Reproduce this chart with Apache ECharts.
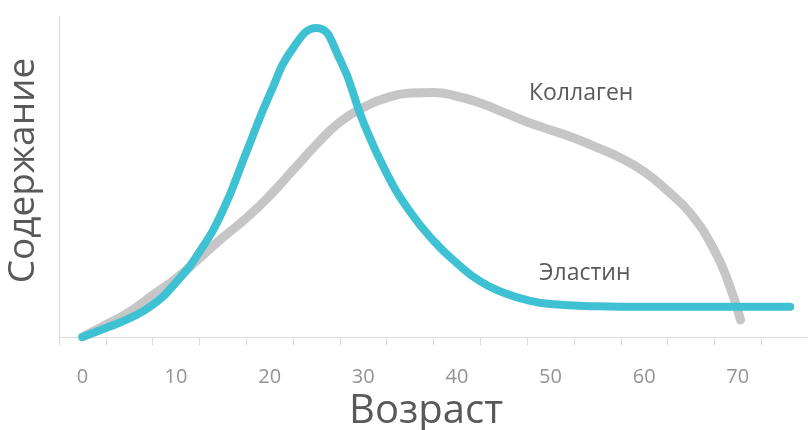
<!DOCTYPE html>
<html>
<head>
<meta charset="utf-8">
<script src="https://cdn.jsdelivr.net/npm/echarts@6/dist/echarts.min.js"></script>
<style>html,body{margin:0;padding:0;background:#fff;}#c{width:808px;height:430px;}</style>
</head>
<body>
<div id="c"></div>
<script>
// Category ticks along the age axis (every 5 years, labels every 10)
const ageCategories = ['0','5','10','15','20','25','30','35','40','45','50','55','60','65','70','75'];
// Эластин: [age, content]
const elastin = [
  [0, 0], [2.5, 2.8], [5, 5.8], [7.5, 10], [10, 17], [12.5, 26.5], [15, 39.4],
  [17.5, 57.5], [20, 75.5], [22.5, 90], [25, 96.3], [27.5, 86.5], [30, 67],
  [32.5, 51], [35, 39], [37.5, 30], [40, 23], [42.5, 17.3], [45, 13.8],
  [47.5, 11.5], [50, 10.3], [55, 9.6], [60, 9.4], [75.6, 9.4]
];
// Коллаген: [age, content]
const collagen = [
  [0, 0], [2.5, 3.8], [5, 7.8], [7.5, 13], [10, 18.2], [12.5, 24.5], [15, 31],
  [17.5, 37], [20, 44], [22.5, 52], [25, 60], [27.5, 67], [30, 71.5],
  [32.5, 74.5], [35, 76], [37.5, 76.2], [40, 75], [42.5, 72.9], [45, 70],
  [47.5, 67], [50, 64.5], [52.5, 62], [55, 59], [57.5, 55.8], [60, 51.5],
  [62.5, 45.5], [65, 38.3], [67.5, 27], [69, 17], [70.3, 5.3]
];
const seriesNames = ['Коллаген', 'Эластин'];
const axisNames = { x: 'Возраст', y: 'Содержание' };

const chart = echarts.init(document.getElementById('c'), null, { renderer: 'canvas' });
const FONT = '"Open Sans", "Noto Sans", sans-serif';
chart.setOption({
  animation: false,
  backgroundColor: '#ffffff',
  grid: { left: 59, right: 0, top: 16, bottom: 93, containLabel: false, outerBoundsMode: 'none' },
  xAxis: [
    {
      type: 'category',
      data: ageCategories,
      boundaryGap: true,
      name: axisNames.x,
      nameLocation: 'middle',
      nameGap: 52,
      nameTextStyle: { fontFamily: FONT, fontSize: 40, color: '#595959', padding: [0, 15, 0, 0] },
      axisLine: { lineStyle: { color: '#d9d9d9', width: 1 } },
      axisTick: { show: true, length: 8, interval: 0, lineStyle: { color: '#d9d9d9' } },
      axisLabel: { interval: 1, margin: 30, fontFamily: FONT, fontSize: 20, color: '#939393' },
      splitLine: { show: false }
    },
    {
      type: 'value',
      min: -2.5,
      max: 77.5,
      show: false
    }
  ],
  yAxis: {
    type: 'value',
    min: 0,
    max: 100,
    name: axisNames.y,
    nameLocation: 'middle',
    nameGap: 17,
    nameTextStyle: { fontFamily: FONT, fontSize: 37, color: '#595959', padding: [0, 0, 0, 12] },
    axisLine: { show: true, onZero: false, lineStyle: { color: '#d9d9d9', width: 1 } },
    axisTick: { show: false },
    axisLabel: { show: false },
    splitLine: { show: false }
  },
  series: [
    {
      name: seriesNames[0],
      type: 'line',
      xAxisIndex: 1,
      data: collagen,
      smooth: 0.5,
      symbol: 'none',
      lineStyle: { color: '#c6c6c6', width: 9, cap: 'round', join: 'round' },
      z: 2
    },
    {
      name: seriesNames[1],
      type: 'line',
      xAxisIndex: 1,
      data: elastin,
      smooth: 0.5,
      symbol: 'none',
      lineStyle: { color: '#3ec1d3', width: 8, cap: 'round', join: 'round' },
      z: 3
    }
  ],
  graphic: [
    { type: 'text', left: 529, top: 82, style: { text: seriesNames[0], font: '23px ' + FONT, fill: '#595959' } },
    { type: 'text', left: 539, top: 262, style: { text: seriesNames[1], font: '23px ' + FONT, fill: '#595959' } }
  ]
});
</script>
</body>
</html>
